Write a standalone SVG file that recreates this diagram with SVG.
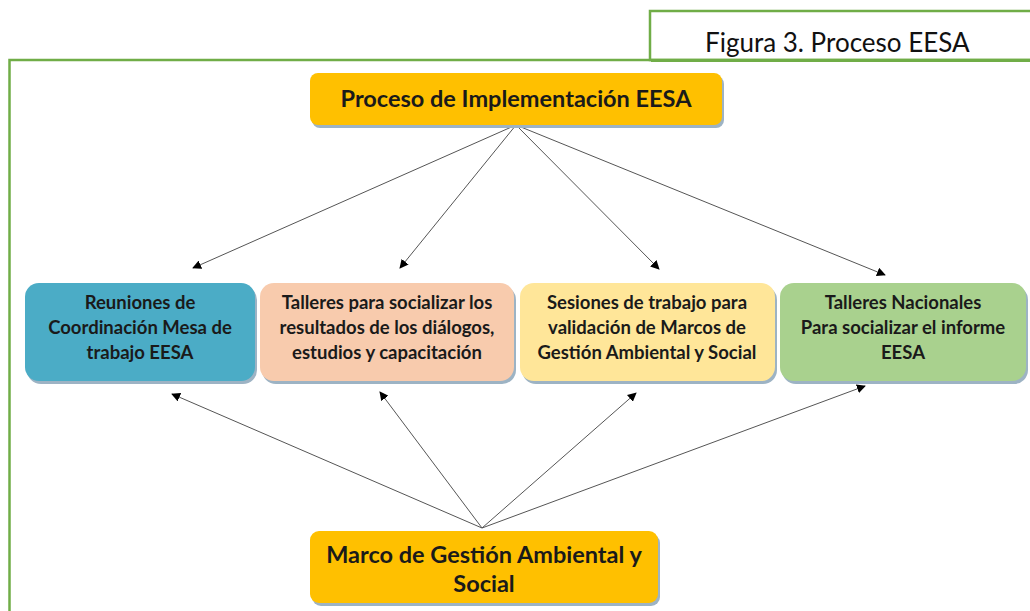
<svg xmlns="http://www.w3.org/2000/svg" width="1030" height="611" viewBox="0 0 1030 611">
<style>
.frame{fill:none;stroke:#70AD47;stroke-width:2.5}
.cap{font-family:Lato,"Liberation Sans",sans-serif;font-size:26px;fill:#111}
.shadow{fill:#9DB3C4}
.t{font-family:Lato,"Liberation Sans",sans-serif;font-weight:bold;fill:#1a1a1a;text-anchor:middle}
.big{font-size:23.5px}
.sm{font-size:18.5px}
.conn line{stroke:#555;stroke-width:1}
</style>
<defs>
<marker id="ah" viewBox="0 0 10 10" refX="9" refY="5" markerWidth="9" markerHeight="9" markerUnits="userSpaceOnUse" orient="auto">
<path d="M0,0 L10,5 L0,10 z" fill="#000"/>
</marker>
</defs>
<rect id="frame-outer" class="frame" x="9.5" y="60" width="1040" height="580"/>
<g id="caption">
<rect class="frame" x="650" y="11" width="400" height="49" fill="#fff"/>
<text class="cap" x="705" y="52">Figura 3. Proceso EESA</text>
<rect x="651" y="59" width="400" height="3" fill="#70AD47"/>
</g>
<g id="connectors" class="conn">
<line x1="516" y1="125" x2="193" y2="268" marker-end="url(#ah)"/>
<line x1="516" y1="125" x2="400" y2="268" marker-end="url(#ah)"/>
<line x1="516" y1="125" x2="659" y2="269" marker-end="url(#ah)"/>
<line x1="516" y1="125" x2="885" y2="275" marker-end="url(#ah)"/>
<line x1="482" y1="528" x2="172" y2="394" marker-end="url(#ah)"/>
<line x1="482" y1="528" x2="380" y2="392" marker-end="url(#ah)"/>
<line x1="482" y1="528" x2="636" y2="393" marker-end="url(#ah)"/>
<line x1="482" y1="528" x2="865" y2="386" marker-end="url(#ah)"/>
</g>
<g id="node-top">
<rect class="shadow" x="312" y="76" width="412" height="52" rx="8"/>
<rect x="310" y="73" width="412" height="52" rx="8" fill="#FFC000"/>
<text class="t big" x="516" y="107">Proceso de Implementación EESA</text>
</g>
<g id="node-reuniones">
<rect class="shadow" x="27" y="286" width="230" height="98" rx="14"/>
<rect x="25" y="283" width="230" height="98" rx="14" fill="#4BACC6"/>
<text class="t sm"><tspan x="140" y="309">Reuniones de</tspan><tspan x="140" y="334">Coordinación Mesa de</tspan><tspan x="140" y="359">trabajo EESA</tspan></text>
</g>
<g id="node-talleres">
<rect class="shadow" x="262" y="286" width="254" height="98" rx="14"/>
<rect x="260" y="283" width="254" height="98" rx="14" fill="#F8CBAD"/>
<text class="t sm"><tspan x="387" y="309">Talleres para socializar los</tspan><tspan x="387" y="334">resultados de los diálogos,</tspan><tspan x="387" y="359">estudios y capacitación</tspan></text>
</g>
<g id="node-sesiones">
<rect class="shadow" x="522" y="286" width="255" height="98" rx="14"/>
<rect x="520" y="283" width="255" height="98" rx="14" fill="#FFE699"/>
<text class="t sm"><tspan x="647" y="309">Sesiones de trabajo para</tspan><tspan x="647" y="334">validación de Marcos de</tspan><tspan x="647" y="359">Gestión Ambiental y Social</tspan></text>
</g>
<g id="node-nacionales">
<rect class="shadow" x="782" y="286" width="246" height="98" rx="14"/>
<rect x="780" y="283" width="246" height="98" rx="14" fill="#A9D18E"/>
<text class="t sm"><tspan x="903" y="309">Talleres Nacionales</tspan><tspan x="903" y="334">Para socializar el informe</tspan><tspan x="903" y="359">EESA</tspan></text>
</g>
<g id="node-marco">
<rect class="shadow" x="312" y="534" width="348" height="72" rx="9"/>
<rect x="310" y="531" width="348" height="72" rx="9" fill="#FFC000"/>
<text class="t big"><tspan x="484" y="563">Marco de Gestión Ambiental y</tspan><tspan x="484" y="592">Social</tspan></text>
</g>
</svg>
